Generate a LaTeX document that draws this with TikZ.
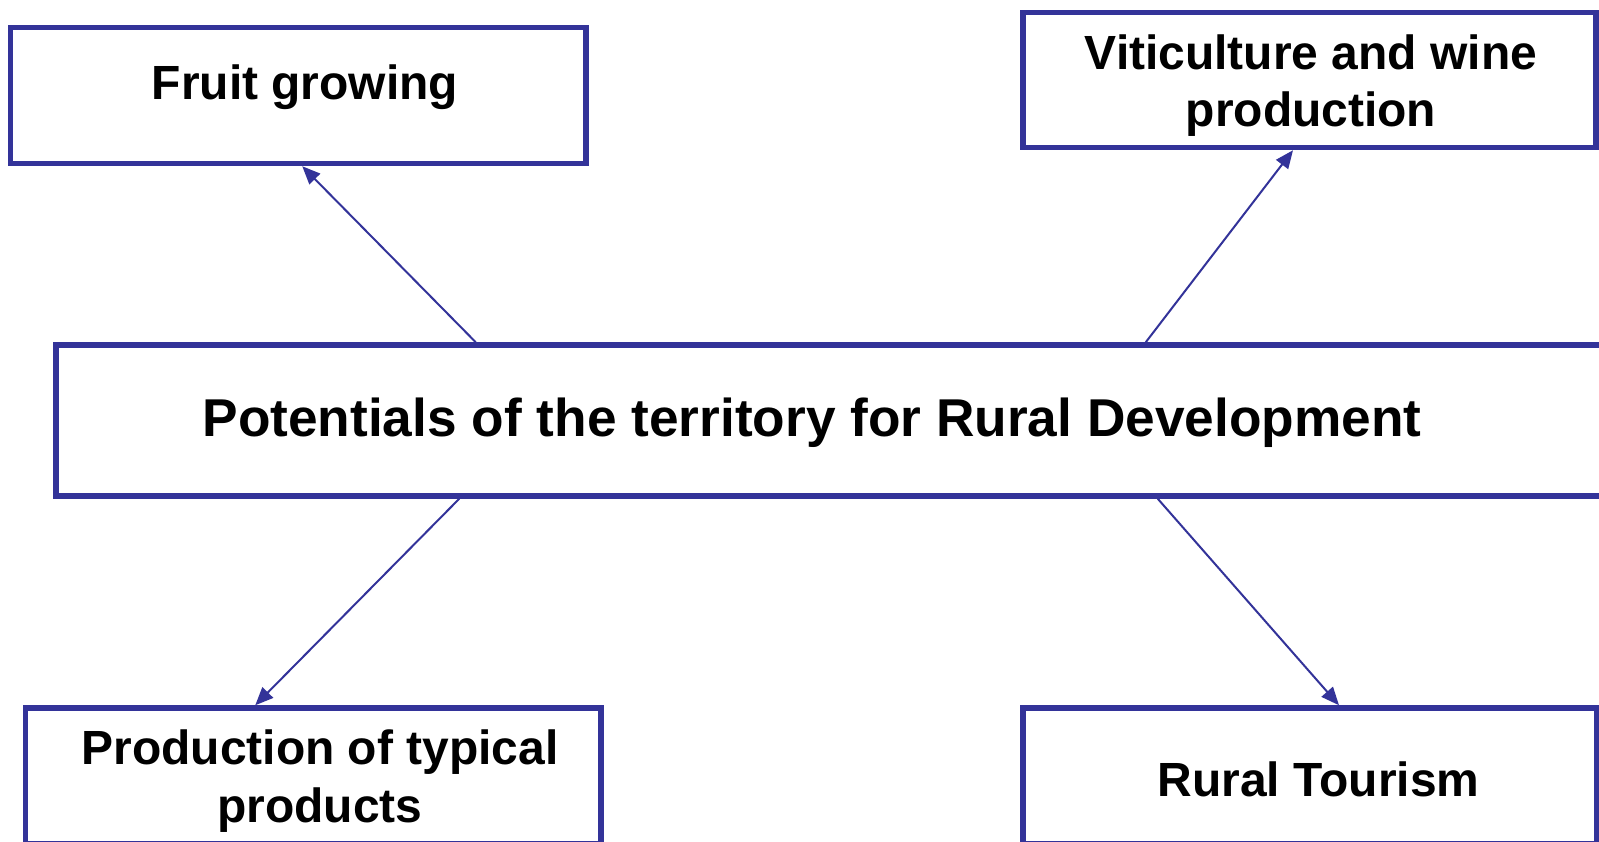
\documentclass[tikz,border=0pt]{standalone}
\usepackage{fontspec}
\setmainfont{Liberation Sans}
\usepackage{tikz}
\usetikzlibrary{arrows.meta}
\definecolor{boxblue}{RGB}{51,51,153}

\begin{document}
\begin{tikzpicture}[
        box/.style={rectangle, draw=boxblue, line width=0.11cm, fill=white, inner sep=0pt},
        lbl/.style={align=center, anchor=base, font=\bfseries\fontsize{27.3}{32.5}\selectfont},
        link/.style={draw=boxblue, line width=0.04cm, -{Triangle[length=0.36cm,width=0.3cm]}}
    ]
    \useasboundingbox (0,0) rectangle (31.98,-16.84);
    \clip (0,0) rectangle (31.98,-16.84);

    % Boxes
    \node[box, minimum width=11.51cm, minimum height=2.72cm] (fruit) at (5.965,-1.91) {};
    \node[box, minimum width=11.46cm, minimum height=2.70cm] (wine) at (26.19,-1.6) {};
    \node[box, minimum width=31.68cm, minimum height=3.02cm] (hub) at (16.96,-8.41) {};
    \node[box, minimum width=11.51cm, minimum height=2.72cm] (typical) at (6.265,-15.52) {};
    \node[box, minimum width=11.48cm, minimum height=2.72cm] (tourism) at (26.2,-15.52) {};

    % Texts (base of two-line texts is their last line)
    \node[lbl] (fruitlbl) at (6.1,-2.0) {Fruit growing};
    \node[lbl] (winelbl) at (26.22,-2.54) {Viticulture and wine\\production};
    \node[lbl, font=\bfseries\fontsize{30.3}{35}\selectfont] (hublbl) at (16.24,-8.74) {Potentials of the territory for Rural Development};
    \node[lbl] (typicallbl) at (6.4,-16.44) {Production of typical\\products};
    \node[lbl] (tourismlbl) at (26.37,-15.92) {Rural Tourism};

    % Arrows
    \draw[link] ([xshift=8.45cm]hub.north west) -- ([xshift=0.08cm]fruit.south);
    \draw[link] ([xshift=21.85cm]hub.north west) -- ([xshift=-0.33cm]wine.south);
    \draw[link] ([xshift=8.12cm]hub.south west) -- ([xshift=-1.16cm]typical.north);
    \draw[link] ([xshift=22.09cm]hub.south west) -- ([xshift=0.58cm]tourism.north);

\end{tikzpicture}
\end{document}
